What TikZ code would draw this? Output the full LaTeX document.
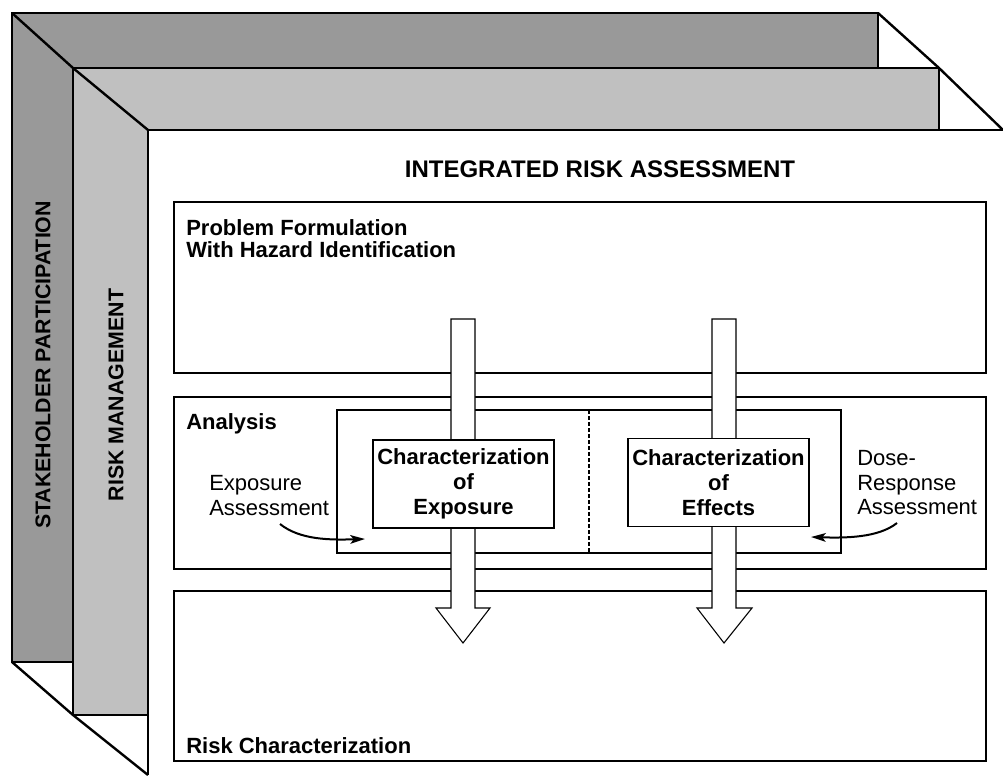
\documentclass[tikz,border=0pt]{standalone}
\usepackage{fontspec}
\setmainfont{Liberation Sans}
\usetikzlibrary{arrows.meta}
\definecolor{backgray}{RGB}{153,153,153}
\definecolor{midgray}{RGB}{192,192,192}

\begin{document}
\begin{tikzpicture}[x=0.75pt, y=-0.75pt,
  frame/.style={draw=black, line width=1.8pt, line join=miter},
  panel/.style={draw=black, line width=0.9pt},
  blockarrow/.style={draw=black, fill=white, line width=0.8pt, line join=miter},
  charbox/.style={draw=black, fill=white, line width=0.9pt, minimum width=135.75pt, minimum height=66pt, align=center, font=\fontsize{16.5}{18.75}\selectfont\bfseries, inner sep=0pt},
  heading/.style={font=\fontsize{16.5}{17}\selectfont\bfseries, align=left, inner sep=0pt},
  sidelabel/.style={font=\fontsize{16.5}{18.5}\selectfont, align=left, inner sep=0pt},
  barlabel/.style={font=\fontsize{16}{18}\selectfont\bfseries, rotate=90, inner sep=0pt},
  curvearrow/.style={line width=1.5pt, -{Stealth[length=11pt,width=6.5pt,inset=2.5pt]}}]

\useasboundingbox (0,0) rectangle (1003,775);

% Stakeholder participation (back frame)
\draw[frame, fill=backgray] (12,13) -- (878,13) -- (878,68) -- (73,68) -- (73,662) -- (12,662) -- cycle;

% Risk management (middle frame)
\draw[frame, fill=midgray] (73,68) -- (939,68) -- (939,130) -- (148,130) -- (148,715) -- (73,715) -- cycle;

% Corner edges
\draw[frame] (12,13) -- (73,68) -- (148,130);
\draw[frame] (878,13) -- (939,68) -- (1003,130);
\draw[frame] (12,662) -- (73,715) -- (148,775);
\draw[frame] (1003,130) -- (148,130) -- (148,775);

% Integrated risk assessment panels
\draw[panel] (174,202) rectangle (986,373);
\draw[panel] (174,397) rectangle (986,569);
\draw[panel] (337,410) rectangle (841,553);
\draw[panel] (174,591) rectangle (986,761);
\draw[panel, dash pattern=on 3pt off 1.5pt] (589,410) -- (589,553);

% Block arrows
\draw[blockarrow] (451,319) -- (475,319) -- (475,608) -- (490,608) -- (463,643) -- (436,608) -- (451,608) -- cycle;
\draw[blockarrow] (712,319) -- (736,319) -- (736,608) -- (752,608) -- (724,643) -- (697,608) -- (712,608) -- cycle;

% Characterization boxes
\node[charbox] (charexpo) at (463.5,484) {Characterization\\of\\Exposure};
\node[charbox] (chareff) at (718.5,482.5) {Characterization\\of\\Effects};

% Labels
\node[font=\fontsize{18}{18}\selectfont\bfseries] (title) at (600,169) {INTEGRATED RISK ASSESSMENT};
\node[heading, anchor=north west] (probtext) at (186,219) {Problem Formulation\\With Hazard Identification};
\node[heading, anchor=north west] (analysis) at (186,413) {Analysis};
\node[heading, anchor=base west] (riskchar) at (186,753) {Risk Characterization};
\node[sidelabel, anchor=north west] (expoassess) at (209,475) {Exposure\\Assessment};
\node[sidelabel, anchor=north west] (doseresp) at (857,450) {Dose-\\Response\\Assessment};
\node[barlabel] (stake) at (43,365) {STAKEHOLDER PARTICIPATION};
\node[barlabel] (riskman) at (116,395) {RISK MANAGEMENT};

% Assessment arrows
\coordinate (expotail) at (280,524);
\coordinate (expotip) at (365,539);
\draw[curvearrow] (expotail) .. controls (300,540) and (330,540) .. (expotip);
\coordinate (dosetail) at (897,523);
\coordinate (dosetip) at (811,537);
\draw[curvearrow] (dosetail) .. controls (878,538) and (845,538) .. (dosetip);

\end{tikzpicture}
\end{document}
